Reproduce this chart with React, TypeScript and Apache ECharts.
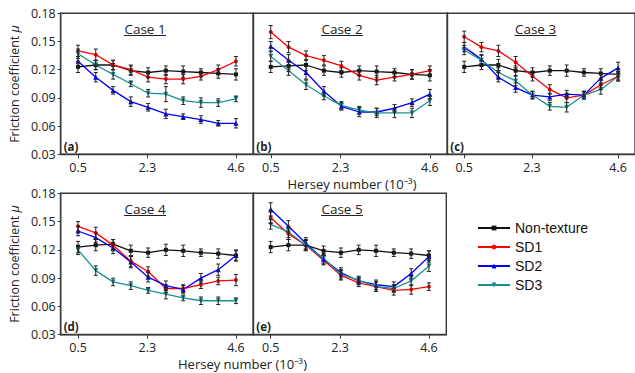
import React, { useEffect, useRef } from "react";
import * as echarts from "echarts";

// ---------- data ----------
const hersey = [0.5, 0.96, 1.41, 1.87, 2.32, 2.78, 3.23, 3.69, 4.14, 4.6];
const xTickValues = [0.5, 2.3, 4.6];
const seriesNames = ["Non-texture", "SD1", "SD2", "SD3"];
const caseNames = ["Case 1", "Case 2", "Case 3", "Case 4", "Case 5"];
const panelTags = ["(a)", "(b)", "(c)", "(d)", "(e)"];

// Case 1
const c1Non = [0.123, 0.125, 0.125, 0.119, 0.117, 0.119, 0.118, 0.117, 0.116, 0.115];
const c1SD1 = [0.140, 0.136, 0.125, 0.120, 0.112, 0.110, 0.110, 0.113, 0.120, 0.129];
const c1SD2 = [0.129, 0.112, 0.098, 0.086, 0.080, 0.073, 0.070, 0.067, 0.063, 0.063];
const c1SD3 = [0.137, 0.125, 0.115, 0.105, 0.095, 0.094, 0.087, 0.085, 0.085, 0.089];
// Case 2
const c2Non = [0.123, 0.124, 0.125, 0.119, 0.117, 0.119, 0.118, 0.117, 0.115, 0.114];
const c2SD1 = [0.160, 0.144, 0.135, 0.130, 0.124, 0.114, 0.109, 0.112, 0.115, 0.119];
const c2SD2 = [0.145, 0.130, 0.117, 0.097, 0.081, 0.075, 0.075, 0.079, 0.085, 0.094];
const c2SD3 = [0.134, 0.119, 0.104, 0.092, 0.082, 0.077, 0.074, 0.074, 0.074, 0.087];
// Case 3
const c3Non = [0.123, 0.125, 0.125, 0.119, 0.117, 0.119, 0.119, 0.117, 0.116, 0.115];
const c3SD1 = [0.155, 0.144, 0.140, 0.128, 0.113, 0.099, 0.090, 0.093, 0.104, 0.113];
const c3SD2 = [0.144, 0.131, 0.112, 0.101, 0.093, 0.091, 0.094, 0.093, 0.111, 0.122];
const c3SD3 = [0.141, 0.130, 0.117, 0.108, 0.093, 0.081, 0.080, 0.093, 0.099, 0.113];
// Case 4
const c4Non = [0.123, 0.125, 0.126, 0.119, 0.117, 0.120, 0.119, 0.117, 0.116, 0.114];
const c4SD1 = [0.145, 0.138, 0.125, 0.108, 0.097, 0.079, 0.079, 0.083, 0.087, 0.088];
const c4SD2 = [0.140, 0.133, 0.122, 0.107, 0.091, 0.082, 0.078, 0.090, 0.099, 0.114];
const c4SD3 = [0.120, 0.098, 0.086, 0.082, 0.077, 0.073, 0.069, 0.066, 0.066, 0.066];
// Case 5
const c5Non = [0.123, 0.125, 0.125, 0.119, 0.117, 0.120, 0.119, 0.117, 0.116, 0.114];
const c5SD1 = [0.154, 0.137, 0.125, 0.109, 0.093, 0.085, 0.081, 0.077, 0.078, 0.081];
const c5SD2 = [0.163, 0.145, 0.127, 0.110, 0.096, 0.087, 0.083, 0.081, 0.095, 0.113];
const c5SD3 = [0.147, 0.139, 0.125, 0.111, 0.094, 0.088, 0.081, 0.079, 0.087, 0.103];

// error half-widths
const c1NonErr = [0.006, 0.005, 0.005, 0.005, 0.005, 0.005, 0.006, 0.004, 0.005, 0.006];
const c1SD1Err = [0.006, 0.006, 0.005, 0.005, 0.005, 0.005, 0.005, 0.004, 0.005, 0.005];
const c1SD2Err = [0.005, 0.005, 0.004, 0.005, 0.004, 0.005, 0.003, 0.004, 0.003, 0.005];
const c1SD3Err = [0.005, 0.005, 0.005, 0.003, 0.004, 0.008, 0.004, 0.005, 0.004, 0.003];
const c2NonErr = [0.006, 0.006, 0.006, 0.005, 0.005, 0.005, 0.006, 0.004, 0.005, 0.006];
const c2SD1Err = [0.007, 0.006, 0.005, 0.005, 0.005, 0.005, 0.005, 0.004, 0.005, 0.005];
const c2SD2Err = [0.005, 0.006, 0.007, 0.005, 0.004, 0.005, 0.004, 0.004, 0.004, 0.005];
const c2SD3Err = [0.005, 0.005, 0.005, 0.004, 0.004, 0.004, 0.005, 0.005, 0.005, 0.005];
const c3NonErr = [0.006, 0.005, 0.006, 0.005, 0.005, 0.005, 0.006, 0.004, 0.005, 0.005];
const c3SD1Err = [0.006, 0.005, 0.006, 0.006, 0.005, 0.005, 0.005, 0.004, 0.005, 0.005];
const c3SD2Err = [0.005, 0.005, 0.005, 0.005, 0.004, 0.004, 0.004, 0.004, 0.005, 0.006];
const c3SD3Err = [0.005, 0.005, 0.005, 0.005, 0.004, 0.004, 0.005, 0.004, 0.005, 0.005];
const c4NonErr = [0.006, 0.006, 0.005, 0.006, 0.005, 0.006, 0.006, 0.004, 0.005, 0.005];
const c4SD1Err = [0.005, 0.006, 0.006, 0.006, 0.005, 0.004, 0.004, 0.004, 0.004, 0.006];
const c4SD2Err = [0.005, 0.005, 0.006, 0.006, 0.005, 0.005, 0.004, 0.005, 0.006, 0.006];
const c4SD3Err = [0.005, 0.005, 0.004, 0.004, 0.003, 0.005, 0.003, 0.004, 0.004, 0.003];
const c5NonErr = [0.006, 0.006, 0.006, 0.005, 0.005, 0.005, 0.006, 0.004, 0.005, 0.005];
const c5SD1Err = [0.006, 0.006, 0.005, 0.005, 0.005, 0.004, 0.005, 0.005, 0.005, 0.004];
const c5SD2Err = [0.007, 0.006, 0.006, 0.005, 0.005, 0.004, 0.005, 0.005, 0.005, 0.006];
const c5SD3Err = [0.005, 0.006, 0.005, 0.005, 0.005, 0.004, 0.005, 0.004, 0.005, 0.006];

const panelValues = [
  [c1Non, c1SD1, c1SD2, c1SD3],
  [c2Non, c2SD1, c2SD2, c2SD3],
  [c3Non, c3SD1, c3SD2, c3SD3],
  [c4Non, c4SD1, c4SD2, c4SD3],
  [c5Non, c5SD1, c5SD2, c5SD3],
];
const panelErrors = [
  [c1NonErr, c1SD1Err, c1SD2Err, c1SD3Err],
  [c2NonErr, c2SD1Err, c2SD2Err, c2SD3Err],
  [c3NonErr, c3SD1Err, c3SD2Err, c3SD3Err],
  [c4NonErr, c4SD1Err, c4SD2Err, c4SD3Err],
  [c5NonErr, c5SD1Err, c5SD2Err, c5SD3Err],
];

// ---------- styles / layout ----------
const colors = ["#111111", "#ff0000", "#0000ff", "#1a9191"];
const symbols = ["rect", "circle", "triangle", "triangle"];
const symbolRotates = [0, 0, 0, 180];
const symbolSizes = [4, 4, 5, 5];

const gridBoxes = [
  { left: 60.7, top: 13.3, width: 192.6, height: 141 },
  { left: 253.3, top: 13.3, width: 194, height: 141 },
  { left: 447.3, top: 13.3, width: 192, height: 141 },
  { left: 60.7, top: 193.3, width: 192.6, height: 141.4 },
  { left: 253.3, top: 193.3, width: 193, height: 141.4 },
];
const caseLabelPos = [
  [145, 28.5],
  [342, 28.5],
  [535.5, 28.5],
  [145, 208.5],
  [342, 208.5],
];
const xTitlePos = [
  [352, 183.5],
  [242.5, 363.5],
];

const FONT = "'Open Sans', 'Noto Sans', sans-serif";

export default function App() {
  const ref = useRef<HTMLDivElement>(null);

  useEffect(() => {
    if (!ref.current) return;
    const chart = echarts.init(ref.current, undefined, { renderer: "svg" });

    const grids = gridBoxes.map((g) => ({
      ...g,
      show: true,
      borderColor: "#3a3a3a",
      borderWidth: 1.4,
      backgroundColor: "transparent",
      containLabel: false,
    }));

    const xAxes = gridBoxes.map((_, i) => ({
      type: "value",
      gridIndex: i,
      min: 0.05,
      max: 5.05,
      axisLine: { show: true, lineStyle: { color: "#3a3a3a", width: 1.4 } },
      axisTick: {
        show: true,
        inside: false,
        length: 4,
        customValues: xTickValues,
        lineStyle: { color: "#3a3a3a", width: 1 },
      },
      axisLabel: {
        show: true,
        customValues: xTickValues,
        margin: 8,
        fontSize: 12.5,
        lineHeight: 10,
        fontFamily: FONT,
        color: "#222",
        formatter: (v: number) => v.toFixed(1),
      },
      splitLine: { show: false },
    }));

    const yAxes = gridBoxes.map((_, i) => {
      const withLabels = i === 0 || i === 3;
      return {
        type: "value",
        gridIndex: i,
        min: 0.03,
        max: 0.18,
        interval: 0.03,
        axisLine: { show: true, lineStyle: { color: "#3a3a3a", width: 1.4 } },
        axisTick: {
          show: withLabels,
          inside: false,
          length: 3,
          lineStyle: { color: "#3a3a3a", width: 1 },
        },
        axisLabel: {
          show: withLabels,
          margin: 5,
          fontSize: 12.5,
          fontFamily: FONT,
          color: "#222",
          formatter: (v: number) => v.toFixed(2),
        },
        splitLine: { show: false },
      };
    });

    const series: any[] = [];
    panelValues.forEach((vals, p) => {
      vals.forEach((arr, s) => {
        series.push({
          type: "line",
          name: seriesNames[s],
          xAxisIndex: p,
          yAxisIndex: p,
          data: arr.map((v, k) => [hersey[k], v]),
          symbol: symbols[s],
          symbolRotate: symbolRotates[s],
          symbolSize: symbolSizes[s],
          showAllSymbol: true,
          lineStyle: { color: colors[s], width: 1.3 },
          itemStyle: { color: colors[s] },
          z: 2,
        });
      });
    });
    panelErrors.forEach((errs, p) => {
      errs.forEach((earr, s) => {
        const vals = panelValues[p][s];
        series.push({
          type: "custom",
          name: "err-" + p + "-" + s,
          xAxisIndex: p,
          yAxisIndex: p,
          z: 3,
          encode: { x: 0, y: [1, 2] },
          data: vals.map((v, k) => [hersey[k], v - earr[k], v + earr[k]]),
          renderItem: (params: any, api: any) => {
            const x = api.value(0);
            const lo = api.coord([x, api.value(1)]);
            const hi = api.coord([x, api.value(2)]);
            const hw = 2;
            const st = { stroke: "#222", lineWidth: 1 };
            return {
              type: "group",
              children: [
                { type: "line", shape: { x1: hi[0], y1: hi[1], x2: lo[0], y2: lo[1] }, style: st },
                { type: "line", shape: { x1: hi[0] - hw, y1: hi[1], x2: hi[0] + hw, y2: hi[1] }, style: st },
                { type: "line", shape: { x1: lo[0] - hw, y1: lo[1], x2: lo[0] + hw, y2: lo[1] }, style: st },
              ],
            };
          },
        });
      });
    });

    const graphic: any[] = [];
    caseNames.forEach((name, i) => {
      const [cx, cy] = caseLabelPos[i];
      graphic.push({
        type: "text",
        x: cx,
        y: cy,
        style: {
          text: name,
          fontSize: 13.5,
          fontFamily: FONT,
          fill: "#222",
          align: "center",
          verticalAlign: "middle",
        },
      });
      graphic.push({
        type: "line",
        shape: { x1: cx - 21, y1: cy + 7, x2: cx + 21, y2: cy + 7 },
        style: { stroke: "#222", lineWidth: 1 },
      });
    });
    panelTags.forEach((tag, i) => {
      const g = gridBoxes[i];
      graphic.push({
        type: "text",
        x: g.left + 3,
        y: g.top + g.height - 8,
        style: {
          text: tag,
          fontSize: 11.5,
          fontWeight: "bold",
          fontFamily: FONT,
          fill: "#222",
          align: "left",
          verticalAlign: "middle",
        },
      });
    });
    [84, 264].forEach((cy) => {
      graphic.push({
        type: "text",
        x: 14,
        y: cy,
        rotation: Math.PI / 2,
        style: {
          text: "{a|Friction coefficient }{b|μ}",
          align: "center",
          verticalAlign: "middle",
          rich: {
            a: { fontSize: 12.5, fontFamily: FONT, fill: "#222" },
            b: { fontSize: 12.5, fontFamily: FONT, fontStyle: "italic", fill: "#222" },
          },
        },
      });
    });
    xTitlePos.forEach(([cx, cy]) => {
      graphic.push({
        type: "text",
        x: cx,
        y: cy,
        style: {
          text: "Hersey number (10⁻³)",
          fontSize: 13,
          lineHeight: 10,
          fontFamily: FONT,
          fill: "#222",
          align: "center",
          verticalAlign: "middle",
        },
      });
    });

    chart.setOption({
      animation: false,
      backgroundColor: "#ffffff",
      grid: grids,
      xAxis: xAxes,
      yAxis: yAxes,
      legend: {
        data: seriesNames,
        orient: "vertical",
        left: 472,
        top: 216,
        itemWidth: 32,
        itemHeight: 6,
        itemGap: 5,
        textStyle: { fontSize: 14, fontFamily: "'Liberation Sans', Arial, sans-serif", color: "#111" },
      },
      series,
      graphic,
    });

    return () => chart.dispose();
  }, []);

  return (
    <div
      ref={ref}
      style={{ position: "absolute", left: 0, top: 0, width: 635, height: 373 }}
    />
  );
}
